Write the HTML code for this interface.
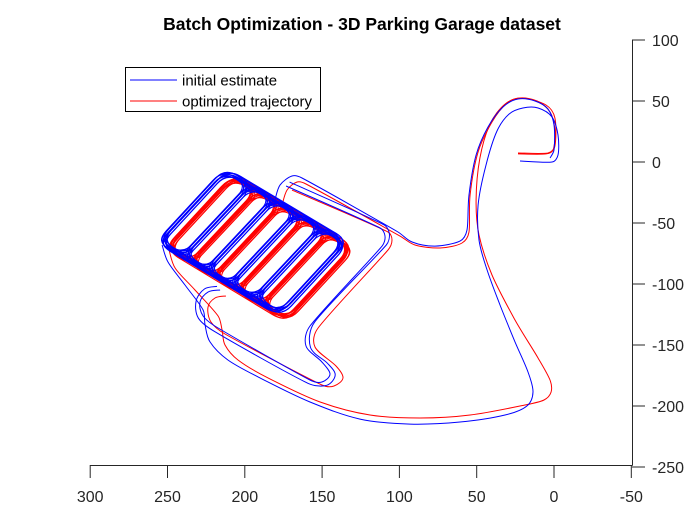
<!DOCTYPE html>
<html><head><meta charset="utf-8"><style>
html,body{margin:0;padding:0;background:#fff;}
svg{display:block;font-family:"Liberation Sans",Arial,sans-serif;}
</style></head><body>
<svg id="chart" width="700" height="525" viewBox="0 0 700 525">
<text x="362" y="30" text-anchor="middle" font-size="17.5" font-weight="bold" fill="#000">Batch Optimization - 3D Parking Garage dataset</text>
<g id="axes"></g>
<g id="plot"></g>
<g>
<rect x="125.5" y="67.5" width="195" height="44" fill="#fff" stroke="#000" stroke-width="1"/>
<line x1="130" y1="80" x2="177" y2="80" stroke="#0000ff" stroke-width="1"/>
<text x="182" y="85.5" font-size="15" fill="#000">initial estimate</text>
<line x1="130" y1="101" x2="177" y2="101" stroke="#ff0000" stroke-width="1"/>
<text x="182" y="106.5" font-size="15" fill="#000">optimized trajectory</text>
</g>
</svg>
<script>
const xTicks=[300,250,200,150,100,50,0,-50];
const yTicks=[100,50,0,-50,-100,-150,-200,-250];

const blueRoute1=[[22,0.8],[1.3,0],[-2.6,5.7],[-2.6,22.1],[1.3,36.9],[10.3,44.3],[20.1,44.3],[29.1,39.3],[36.9,25.4],[44,-2.5],[49.1,-35.2],[48.5,-63.9],[43.3,-88.5],[34.9,-117.2],[25.2,-147.5],[16.8,-172.1],[13.6,-188.5],[17.5,-200],[31.7,-207.4],[60.8,-213.1],[93.1,-214.8],[125.5,-210.7],[157.8,-196.7],[190.2,-177],[210.9,-162.3],[222.5,-147.5],[225.7,-133.6],[227,-121.3],[238.7,-100.8],[249.7,-82],[253.5,-68]];
const blueRoute2=[[180.5,-31.1],[177.2,-18.9],[169.5,-11.5],[163,-13.1],[100.9,-57.4],[91.8,-65.6],[77,-68.9],[60.8,-64.8],[56.3,-55.7],[55,-27],[50.4,5.7],[42.7,28.7],[33,45.1],[23.3,51.6],[12.3,50],[3.9,43.4],[0,30.3],[0,9.8],[2.6,3.3]];
const blueDetour=[[173.3,-19.7],[112.5,-54.1],[109.3,-60.7],[111.2,-68.9],[157.8,-134.4],[160.4,-150.8],[150.1,-163.9],[144.9,-173.8],[150.1,-180.3],[157.8,-178.7],[217.3,-136.1],[227,-126.2],[229,-114.8],[223.8,-106.6],[216,-104.9]];
const blueDetour2=[[171,-16.5],[110,-51.5],[106.5,-59],[108.5,-68],[155,-131.5],[157.5,-152],[146.5,-165],[141.5,-174.5],[147,-183],[159,-181.5],[219.5,-139],[230,-128],[231.5,-114],[226,-104],[218,-102]];

const redRoute1=[[23.3,7.4],[3.9,7.4],[-0.6,13.1],[-0.6,36.1],[5.2,46.7],[20.7,52.5],[31.7,47.5],[41.4,31.1],[47.9,3.3],[50.4,-31.1],[48.5,-59.8],[40.1,-92.6],[25.2,-129.5],[10.3,-160.7],[2.6,-178.7],[1.9,-188.5],[6.5,-195.1],[18.8,-199.2],[54.3,-207.4],[86.7,-209.8],[119,-207.4],[151.3,-196.7],[185,-177],[204.4,-162.3],[212.8,-150],[214.7,-137.7],[217.3,-126.2],[232.2,-104.9],[245.1,-86.9],[249,-72.1]];
const redRoute2=[[175.9,-35.2],[172.7,-23],[166.2,-16.4],[160.4,-18],[99.6,-60.7],[89.9,-68],[73.7,-70.5],[59.5,-66.4],[55,-57.4],[54.3,-27],[49.1,8.2],[40.1,32.8],[30.4,48.4],[22,52.5],[11,50],[2.6,41],[-0.6,26.2],[0.6,9.8],[5.2,6.6],[23.3,6.6]];
const redDetour=[[169.5,-23],[107.4,-57.4],[104.8,-63.9],[107.4,-72.1],[152.6,-136.1],[154.6,-151.6],[141,-167.2],[136.5,-177],[142.3,-183.6],[150.1,-182.8],[212.8,-141],[221.9,-131.1],[223.8,-118.9],[219.3,-111.5],[212.2,-109.8]];

const blueTopX=[212,196,181,166,150,134];
const blueTopY=[-7,-19.5,-31,-42.5,-54,-66];
const blueBotX=[255,239,224,209,193,177];
const blueBotY=[-66,-77.5,-89,-100.5,-112,-125];
const redTopX=[207,191.5,176.5,161.5,145.5,130];
const redTopY=[-12,-24.5,-36,-47.5,-59,-71];
const redBotX=[250,234.5,219.5,204.5,188.5,173];
const redBotY=[-71,-82.5,-94,-105.5,-117,-130];
const lapStart=[0,0,1,2,3,4];
const lapEnd=[5,1,2,3,4,5];
const blueJitterX=[0,1.3,-1.1,2.2,-0.6,0.8];
const blueJitterY=[0,-1.1,1.4,0.7,-1.8,2.0];
const redJitterX=[0,1.0,-1.3,0.6,1.8,-0.4];
const redJitterY=[0,1.2,-0.9,-1.6,0.5,1.9];

const NS="http://www.w3.org/2000/svg";
function sx(v){return 554-1.546*v;}
function sy(v){return 162-1.22*v;}
const axes=document.getElementById('axes');
const plot=document.getElementById('plot');
function mk(tag,attrs,parent){const e=document.createElementNS(NS,tag);for(const k in attrs)e.setAttribute(k,attrs[k]);parent.appendChild(e);return e;}

let bl=mk('line',{x1:sx(300),y1:465.5,x2:632.5,y2:465.5,stroke:'#262626','stroke-width':1},axes);


let rl=mk('line',{x1:632.5,y1:sy(100),x2:632.5,y2:465.5,stroke:'#262626','stroke-width':1},axes);


xTicks.forEach(t=>{
  const x=sx(t);
  const tk=mk('line',{x1:x,y1:465,x2:x,y2:478,stroke:'#262626','stroke-width':1},axes);
  
  
  const tx=mk('text',{x:x,y:502,'text-anchor':'middle','font-size':16,fill:'#262626'},axes);
  tx.textContent=t;
  
  
});
yTicks.forEach(t=>{
  const y=sy(t);
  const tk=mk('line',{x1:632,y1:y,x2:645,y2:y,stroke:'#262626','stroke-width':1},axes);
  
  
  const tx=mk('text',{x:652,y:y+6,'font-size':16,fill:'#262626'},axes);
  tx.textContent=t;
  
  
});

function clampVec(v,maxLen){const l=Math.hypot(v[0],v[1]);if(l>maxLen&&l>0){return [v[0]*maxLen/l,v[1]*maxLen/l];}return v;}
function smoothPath(pts){
  const p=pts.map(q=>[sx(q[0]),sy(q[1])]);
  const n=p.length;
  let d='M'+p[0][0].toFixed(1)+','+p[0][1].toFixed(1);
  const get=i=>p[Math.max(0,Math.min(n-1,i))];
  for(let i=0;i<n-1;i++){
    const p0=get(i-1),p1=get(i),p2=get(i+1),p3=get(i+2);
    const L=Math.hypot(p2[0]-p1[0],p2[1]-p1[1]);
    const t1=clampVec([(p2[0]-p0[0])/6,(p2[1]-p0[1])/6],L*0.35);
    const t2=clampVec([(p3[0]-p1[0])/6,(p3[1]-p1[1])/6],L*0.35);
    d+='C'+(p1[0]+t1[0]).toFixed(1)+','+(p1[1]+t1[1]).toFixed(1)+' '+(p2[0]-t2[0]).toFixed(1)+','+(p2[1]-t2[1]).toFixed(1)+' '+p2[0].toFixed(1)+','+p2[1].toFixed(1);
  }
  return d;
}
function roundedLoop(c,r){
  let d='';
  for(let i=0;i<4;i++){
    const a=c[(i+3)%4],b=c[i],e=c[(i+1)%4];
    const l1=Math.hypot(b[0]-a[0],b[1]-a[1]),l2=Math.hypot(e[0]-b[0],e[1]-b[1]);
    const rr=Math.min(r,l1/2.1,l2/2.1);
    const s=[b[0]+(a[0]-b[0])*rr/l1,b[1]+(a[1]-b[1])*rr/l1];
    const f=[b[0]+(e[0]-b[0])*rr/l2,b[1]+(e[1]-b[1])*rr/l2];
    d+=(i===0?'M':'L')+s[0].toFixed(1)+','+s[1].toFixed(1)+'Q'+b[0].toFixed(1)+','+b[1].toFixed(1)+' '+f[0].toFixed(1)+','+f[1].toFixed(1);
  }
  return d+'Z';
}
function drawRoute(pts,color,name){
  const e=mk('path',{d:smoothPath(pts),fill:'none',stroke:color,'stroke-width':1,'stroke-linejoin':'round'},plot);
  
  
}
function drawGarage(tx,ty,bx,by,jx,jy,color,name){
  for(let j=0;j<jx.length;j++){
    for(let k=0;k<lapStart.length;k++){
      const a=lapStart[k],b=lapEnd[k];
      const corners=[[tx[a]+jx[j],ty[a]+jy[j]],[tx[b]+jx[j],ty[b]+jy[j]],[bx[b]+jx[j],by[b]+jy[j]],[bx[a]+jx[j],by[a]+jy[j]]].map(q=>[sx(q[0]),sy(q[1])]);
      const e=mk('path',{d:roundedLoop(corners,15),fill:'none',stroke:color,'stroke-width':1.1},plot);
      
      
    }
  }
}
drawRoute(redRoute1,'#ff0000','optimized-route-outbound');
drawRoute(redRoute2,'#ff0000','optimized-route-return');
drawRoute(redDetour,'#ff0000','optimized-route-detour');
drawGarage(redTopX,redTopY,redBotX,redBotY,redJitterX,redJitterY,'#ff0000','optimized-garage-lap');
drawRoute(blueRoute1,'#0000ff','initial-route-outbound');
drawRoute(blueRoute2,'#0000ff','initial-route-return');
drawRoute(blueDetour,'#0000ff','initial-route-detour');
drawRoute(blueDetour2,'#0000ff','initial-route-detour-2');
drawGarage(blueTopX,blueTopY,blueBotX,blueBotY,blueJitterX,blueJitterY,'#0000ff','initial-garage-lap');
</script>
</body></html>
